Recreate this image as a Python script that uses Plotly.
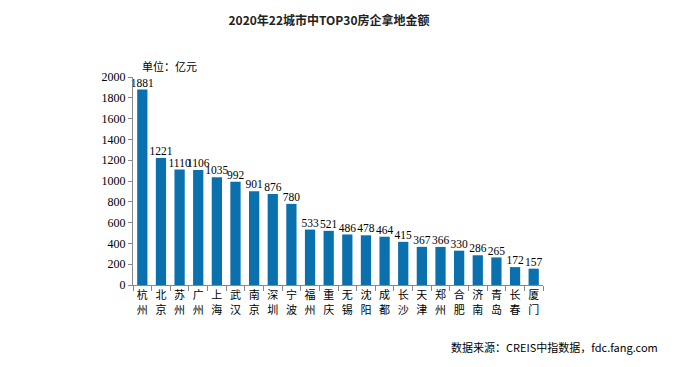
import plotly.graph_objects as go

cities = ["杭州", "北京", "苏州", "广州", "上海", "武汉", "南京", "深圳", "宁波", "福州", "重庆",
          "无锡", "沈阳", "成都", "长沙", "天津", "郑州", "合肥", "济南", "青岛", "长春", "厦门"]
values = [1881, 1221, 1110, 1106, 1035, 992, 901, 876, 780, 533, 521,
          486, 478, 464, 415, 367, 366, 330, 286, 265, 172, 157]
y_ticks = [0, 200, 400, 600, 800, 1000, 1200, 1400, 1600, 1800, 2000]

labels = [c[0] + "<br>" + c[1] for c in cities]

# page body has an 8px margin; compensate so the figure lands like the reference
OFF = 8
W, H = 680 - 2 * OFF, 367 - 2 * OFF
L, T = 133 - OFF, 77 - OFF
R = W - (543 - OFF)
B = H - (285 - OFF)
pw, ph = W - L - R, H - T - B

fig = go.Figure()
fig.add_trace(go.Bar(
    x=labels, y=values,
    marker=dict(color="#0A70AE", line=dict(width=0)),
    width=0.55, hoverinfo="skip",
))
fig.add_trace(go.Scatter(
    x=labels, y=values, mode="text",
    text=[str(v) for v in values], textposition="top center",
    textfont=dict(family="Liberation Serif", size=11.5, color="#000"),
    cliponaxis=False, hoverinfo="skip",
))

fig.update_layout(
    width=W, height=H,
    margin=dict(l=L, r=R, t=T, b=B, autoexpand=False),
    paper_bgcolor="white", plot_bgcolor="white",
    showlegend=False,
    title=dict(text="<b>2020年22城市中TOP30房企拿地金额</b>", x=(329 - OFF) / W, xanchor="center",
               y=1 - (21 - OFF) / H, yanchor="middle",
               font=dict(family="Noto Sans CJK SC", size=12, color="#222")),
    annotations=[
        dict(text="单位：亿元", xref="paper", yref="paper",
             x=(140 - OFF - L) / pw, y=(H - (66 - OFF) - B) / ph,
             xanchor="left", yanchor="middle", showarrow=False,
             font=dict(family="Noto Sans CJK SC", size=11, color="#000")),
        dict(text="数据来源：CREIS中指数据，fdc.fang.com", xref="paper", yref="paper",
             x=(660 - OFF - L) / pw, y=(H - (347 - OFF) - B) / ph,
             xanchor="right", yanchor="middle", showarrow=False,
             font=dict(family="Noto Sans CJK SC", size=11, color="#000")),
    ],
)

fig.update_xaxes(
    automargin=False, range=[-0.5, len(cities) - 0.5],
    showline=True, linecolor="#888", linewidth=1,
    ticks="outside", tickson="boundaries", ticklen=5, tickcolor="#888",
    tickfont=dict(family="Noto Sans CJK SC", size=11, color="#000"),
    showgrid=False, tickangle=0,
)
fig.update_yaxes(
    automargin=False,
    range=[0, 2000], tickvals=y_ticks, ticktext=[str(v) for v in y_ticks],
    showline=True, linecolor="#888", linewidth=1,
    ticks="outside", ticklen=4, tickcolor="#888",
    tickfont=dict(family="Liberation Serif", size=12, color="#000"),
    showgrid=False, zeroline=False,
)

fig.write_html("out.html")
